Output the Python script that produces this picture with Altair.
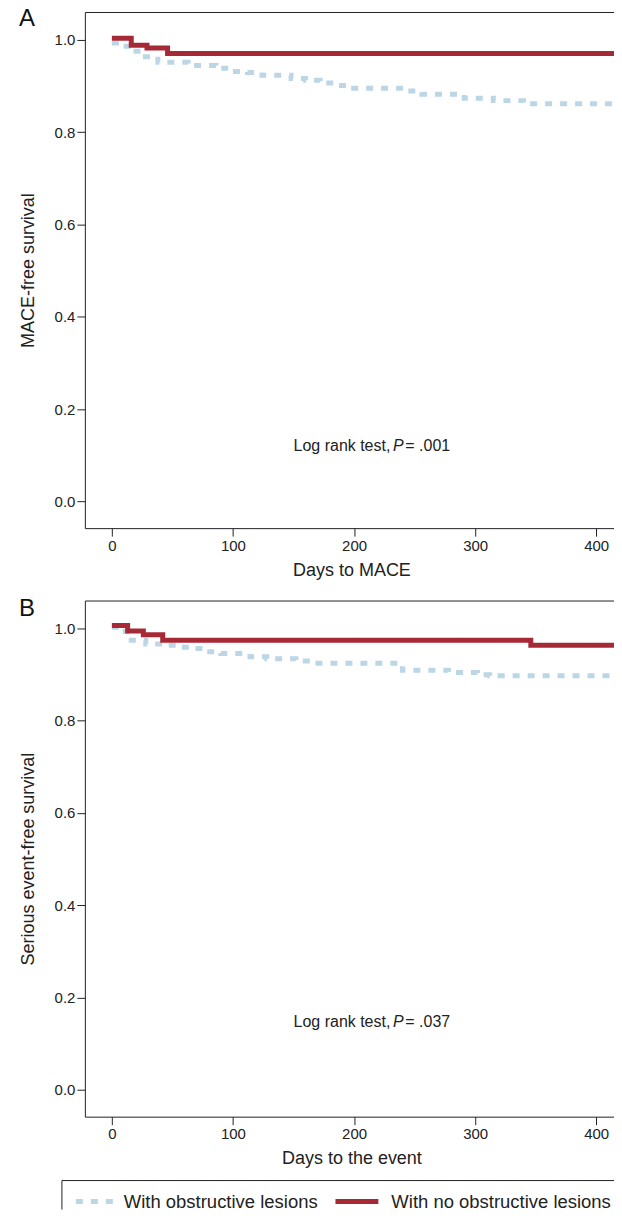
import altair as alt
import pandas as pd

FONT = "Liberation Sans"

groups = ["With obstructive lesions", "With no obstructive lesions"]
colors = ["#BCD6E6", "#A62A36"]
dashes = [[7, 8], [1, 0]]

# Panel A: MACE-free survival
a_obs_days = [0, 8, 16, 24, 38, 63, 86, 98, 112, 124, 148, 160, 172, 184, 196, 244, 256, 291, 315, 340, 420]
a_obs_surv = [0.993, 0.986, 0.975, 0.963, 0.951, 0.944, 0.938, 0.931, 0.929, 0.923, 0.916, 0.912,
              0.906, 0.901, 0.895, 0.889, 0.882, 0.873, 0.868, 0.861, 0.861]
a_non_days = [0, 16, 29, 46, 420]
a_non_surv = [1.003, 0.988, 0.982, 0.970, 0.970]

# Panel B: serious event-free survival
b_obs_days = [0, 8, 16, 28, 42, 55, 66, 78, 90, 114, 128, 152, 165, 240, 278, 302, 312, 420]
b_obs_surv = [1.002, 0.993, 0.974, 0.966, 0.963, 0.959, 0.956, 0.949, 0.945, 0.938, 0.934, 0.929,
              0.924, 0.909, 0.904, 0.899, 0.897, 0.897]
b_non_days = [0, 13, 26, 42, 346, 420]
b_non_surv = [1.006, 0.994, 0.986, 0.974, 0.963, 0.963]

x_ticks = [0, 100, 200, 300, 400]
y_ticks = [0.0, 0.2, 0.4, 0.6, 0.8, 1.0]

H = 517
W = 534


def panel(obs_d, obs_s, non_d, non_s, ytitle, xtitle, letter, letter_y, ptext, ptext_y, show_legend):
    df_obs = pd.DataFrame({"day": obs_d, "surv": obs_s, "group": groups[0]})
    df_non = pd.DataFrame({"day": non_d, "surv": non_s, "group": groups[1]})
    x = alt.X("day:Q", scale=alt.Scale(domain=[-22.3, 418], nice=False, zero=False),
              axis=alt.Axis(values=x_ticks, title=xtitle))
    y = alt.Y("surv:Q", scale=alt.Scale(domain=[-0.058, 1.06], nice=False, zero=False),
              axis=alt.Axis(values=y_ticks, format=".1f", title=ytitle))
    color = alt.Color("group:N", scale=alt.Scale(domain=groups, range=colors), legend=None)
    dash = alt.StrokeDash("group:N", scale=alt.Scale(domain=groups, range=dashes), legend=None)

    blue = alt.Chart(df_obs).mark_line(interpolate="step-after", strokeWidth=5, clip=True).encode(
        x=x, y=y, color=color, strokeDash=dash)
    red = alt.Chart(df_non).mark_line(interpolate="step-after", strokeWidth=5, clip=True).encode(
        x=x, y=y, color=color, strokeDash=dash)

    ann = pd.DataFrame({"day": [236.6], "surv": [ptext_y]})
    t1 = alt.Chart(ann).mark_text(align="right", baseline="middle", dx=-8, fontSize=16, font=FONT,
                                  color="#222").encode(x=x, y=y, text=alt.value("Log rank test,"))
    t2 = alt.Chart(ann).mark_text(align="center", baseline="middle", fontSize=16, font=FONT,
                                  fontStyle="italic", color="#222").encode(x=x, y=y, text=alt.value("P"))
    t3 = alt.Chart(ann).mark_text(align="left", baseline="middle", dx=7, fontSize=16, font=FONT,
                                  color="#222").encode(x=x, y=y, text=alt.value("= " + ptext))
    lab = alt.Chart(ann).mark_text(align="left", baseline="top", fontSize=24, font=FONT,
                                   color="#111").encode(x=alt.value(-66), y=alt.value(letter_y),
                                                        text=alt.value(letter))
    layers = [blue, red, t1, t2, t3, lab]
    if show_legend:
        ly = H + 85  # legend row centre
        leg = pd.DataFrame({"group": groups})
        frame_top = alt.Chart(ann).mark_rule(color="#222", strokeWidth=1).encode(
            x=alt.value(-23), x2=alt.value(W + 4), y=alt.value(H + 64))
        frame_left = alt.Chart(ann).mark_rule(color="#222", strokeWidth=1).encode(
            x=alt.value(-23), y=alt.value(H + 64), y2=alt.value(H + 93))
        sw1 = alt.Chart(leg).transform_filter(alt.datum.group == groups[0]).mark_rule(
            strokeWidth=5).encode(x=alt.value(-9), x2=alt.value(34), y=alt.value(ly),
                                  color=color, strokeDash=dash)
        sw2 = alt.Chart(leg).transform_filter(alt.datum.group == groups[1]).mark_rule(
            strokeWidth=5).encode(x=alt.value(251), x2=alt.value(294), y=alt.value(ly),
                                  color=color, strokeDash=dash)
        lt1 = alt.Chart(leg).transform_filter(alt.datum.group == groups[0]).mark_text(
            align="left", baseline="middle", fontSize=18.5, font=FONT, color="#222").encode(
            x=alt.value(39), y=alt.value(ly), text="group:N")
        lt2 = alt.Chart(leg).transform_filter(alt.datum.group == groups[1]).mark_text(
            align="left", baseline="middle", fontSize=18.5, font=FONT, color="#222").encode(
            x=alt.value(307), y=alt.value(ly), text="group:N")
        layers += [frame_top, frame_left, sw1, sw2, lt1, lt2]
    return alt.layer(*layers).properties(width=W, height=H)


pA = panel(a_obs_days, a_obs_surv, a_non_days, a_non_surv, "MACE-free survival", "Days to MACE",
           "A", -5, ".001", 0.1206, False)
pB = panel(b_obs_days, b_obs_surv, b_non_days, b_non_surv, "Serious event-free survival",
           "Days to the event", "B", -3, ".037", 0.148, True)

chart = alt.vconcat(pA, pB, spacing=16.5).properties(
    padding={"left": 10, "top": -3, "right": -9, "bottom": 0}
).configure_view(
    stroke="#222", strokeWidth=1
).configure_axis(
    domain=False, grid=False, tickColor="#222", tickSize=8, tickWidth=1,
    labelFont=FONT, labelFontSize=15, labelColor="#222", labelPadding=2,
    titleFont=FONT, titleFontSize=18, titleFontWeight="normal", titleColor="#222"
).configure_axisY(
    titlePadding=17
).configure_axisX(
    titlePadding=8
)

chart.save("out.html", embed_options={"renderer": "svg", "actions": False})
